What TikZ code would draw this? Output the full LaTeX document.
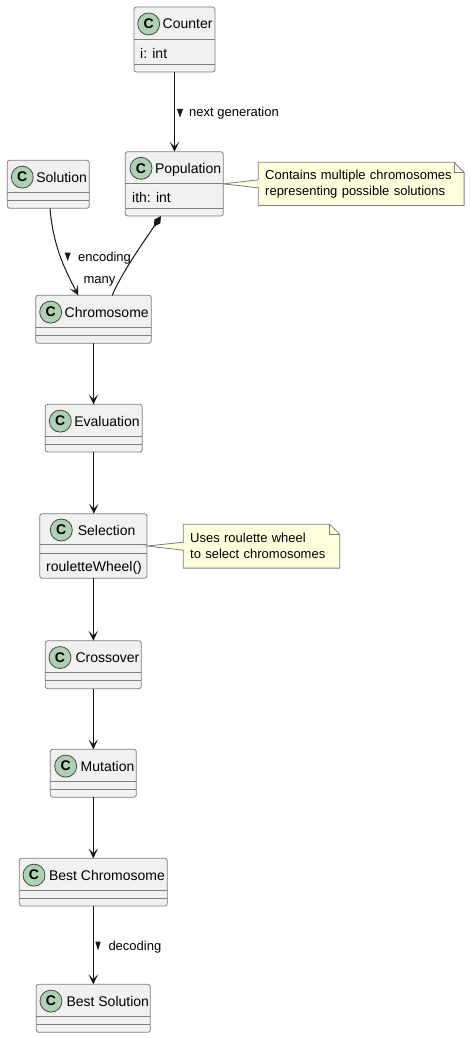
\documentclass[tikz,border=0pt]{standalone}
\usepackage{fontspec}
\setmainfont{Liberation Sans}
\usetikzlibrary{arrows.meta}
\pgfdeclarelayer{background}
\pgfdeclarelayer{canvas}
\pgfsetlayers{canvas,background,main}
\definecolor{boxfill}{HTML}{F1F1F1}
\definecolor{boxline}{HTML}{181818}
\definecolor{greyline}{HTML}{7E7E7E}
\definecolor{circfill}{HTML}{ADD1B2}
\definecolor{notefill}{HTML}{FEFFDD}
\tikzset{
  classbox/.style={draw=greyline, fill=boxfill, line width=0.8pt, rounded corners=2.5pt, inner sep=0pt, outer sep=0pt},
  sepline/.style={draw=greyline, line width=0.8pt},
  ccircle/.style={circle, draw=boxline!80, line width=0.8pt, fill=circfill, minimum size=22pt, inner sep=0pt, font=\fontsize{14}{14}\selectfont\bfseries},
  cname/.style={anchor=base west, inner sep=0pt, font=\fontsize{14}{16}\selectfont},
  member/.style={anchor=base west, inner sep=0pt, font=\fontsize{14}{16}\selectfont},
  flow/.style={draw=boxline, line width=1pt, -{Stealth[length=10pt,width=9.5pt,inset=5pt]}},
  comp/.style={draw=boxline, line width=1pt, {Diamond[length=13pt,width=7pt]}-},
  elabel/.style={anchor=base west, inner sep=0pt, font=\fontsize{13}{16}\selectfont},
  dirmark/.style={fill=boxline},
  notebox/.style={inner xsep=6.7pt, inner ysep=0pt, align=left, anchor=north west, font=\fontsize{13}{16}\selectfont},
  noteline/.style={draw=greyline, line width=0.8pt, fill=notefill},
}
\newcommand\umlclass[9]{%
  \node[classbox, minimum width={#4-#2}, minimum height={#5-#3}, anchor=north west] (#1) at (#2,#3) {};
  \draw[sepline] (#2,#6) -- (#4,#6);
  \draw[sepline] (#2,#7) -- (#4,#7);
  \node[ccircle] (#1-c) at (#8,{(#3+#6)/2+0.8}) {C};
  \node[cname] (#1-n) at ({#8+13.8},{(#3+#6)/2+5.8}) {#9};
}
\begin{document}
\begin{tikzpicture}[x=1pt,y=-1pt]
\begin{pgfonlayer}{canvas}
\fill[white] (0,0) rectangle (470,1038);
\end{pgfonlayer}
\useasboundingbox (0,0) rectangle (470,1038);

% classes
\umlclass{counter}{134}{7}{215}{72}{39.3}{64}{148.7}{Counter}
\umlclass{population}{125.3}{151.7}{223.3}{216}{183.3}{208.3}{141}{Population}
\umlclass{solution}{7.3}{160.3}{89.3}{208.3}{192.3}{200.3}{22.3}{Solution}
\umlclass{chromosome}{35.7}{295.3}{151.3}{343.3}{327.3}{335.3}{50.7}{Chromosome}
\umlclass{evaluation}{45.3}{404.3}{142.3}{452}{436.3}{444}{60.3}{Evaluation}
\umlclass{selection}{39.7}{513.7}{147}{578.3}{544.7}{553}{61.3}{\hspace{2.5pt}Selection}
\umlclass{crossover}{45.3}{640.7}{141.3}{688.7}{672.7}{680.3}{60}{\hspace{1.5pt}Crossover}
\umlclass{mutation}{50.3}{749.3}{136.3}{797.3}{781.3}{789.3}{65.7}{\hspace{1pt}Mutation}
\umlclass{bestchrom}{19.3}{858.3}{167.3}{906}{890.3}{898.3}{34}{\hspace{1pt}Best Chromosome}
\umlclass{bestsol}{36.3}{984.3}{150.3}{1032.3}{1016.3}{1024.3}{51}{\hspace{1.5pt}Best Solution}

% members
\node[member] (counter-a) at (140,58.3) {i: int};
\node[member] (population-a) at (132,202) {ith: int};
\node[member] (selection-m) at (46,571.5) {rouletteWheel()};

% notes
\node[notebox, text width=192pt, minimum height=42.7pt] (note1) at (258.3,162.3)
  {Contains multiple chromosomes\\representing possible solutions};
\node[notebox, text width=142.6pt, minimum height=43.4pt] (note2) at (183.3,524.3)
  {Uses roulette wheel\\to select chromosomes};
\begin{pgfonlayer}{background}
  \foreach \n in {note1,note2}{
    \draw[noteline] (\n.north west) -- ([xshift=-10pt]\n.north east)
      -- ([yshift=-10pt]\n.north east) -- (\n.south east) -- (\n.south west) -- cycle;
    \draw[sepline] ([xshift=-10pt]\n.north east) -- ([xshift=-10pt,yshift=-10pt]\n.north east)
      -- ([yshift=-10pt]\n.north east);
  }
\end{pgfonlayer}
\draw[noteline] (population.east) -- ([yshift=4pt]note1.west) -- ([yshift=-4pt]note1.west) -- cycle;
\draw[noteline] (selection.east) -- ([yshift=4pt]note2.west) -- ([yshift=-4pt]note2.west) -- cycle;
\fill[notefill] ([yshift=3.5pt,xshift=-0.2pt]note1.west) rectangle ([yshift=-3.5pt,xshift=0.6pt]note1.west);
\fill[notefill] ([yshift=3.5pt,xshift=-0.2pt]note2.west) rectangle ([yshift=-3.5pt,xshift=0.6pt]note2.west);

% connectors
\draw[flow] (counter.south) -- (counter.south |- population.north);
\fill[dirmark] (177,109) -- (183,109) -- (180,117.5) -- cycle;
\node[elabel] (lbl-next) at (189,117) {next generation};

\draw[flow] ([xshift=1.7pt]solution.south) .. controls (53,245) and (64,268) .. ([xshift=-15.2pt]chromosome.north);
\fill[dirmark] (64.7,252.5) -- (70.7,252.5) -- (67.7,261) -- cycle;
\node[elabel] (lbl-enc) at (78,261.5) {encoding};

\draw[comp] ([xshift=-13.3pt]population.south) .. controls (145,240) and (122,272) .. ([xshift=18.8pt]chromosome.north);
\node[elabel] (lbl-many) at (83.3,283.3) {many};

\draw[flow] (chromosome.south) -- (chromosome.south |- evaluation.north);
\draw[flow] (evaluation.south) -- (evaluation.south |- selection.north);
\draw[flow] (crossover.north |- selection.south) -- (crossover.north);
\draw[flow] (crossover.south) -- (crossover.south |- mutation.north);
\draw[flow] (mutation.south) -- (mutation.south |- bestchrom.north);
\draw[flow] (bestchrom.south) -- (bestchrom.south |- bestsol.north);
\fill[dirmark] (95.3,941.5) -- (100.7,941.5) -- (98,950.5) -- cycle;
\node[elabel] (lbl-dec) at (108.3,950.5) {decoding};
\end{tikzpicture}
\end{document}
